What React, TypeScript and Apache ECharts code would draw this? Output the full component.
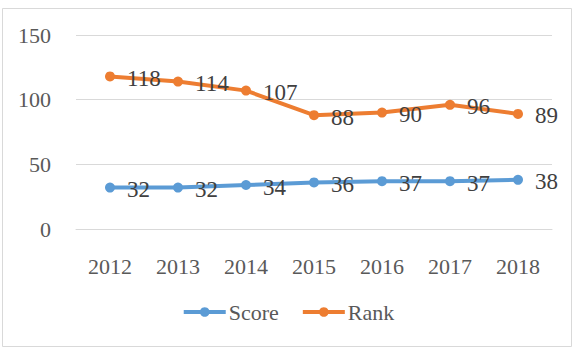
import React, { useEffect, useRef } from "react";
import * as echarts from "echarts";

const years = ["2012", "2013", "2014", "2015", "2016", "2017", "2018"];
const score = [32, 32, 34, 36, 37, 37, 38];
const rank = [118, 114, 107, 88, 90, 96, 89];
const yTicks = { min: 0, max: 150, interval: 50 };

const FONT = "Liberation Serif";
const TEXT = "#595959";

export default function App() {
  const ref = useRef<HTMLDivElement>(null);
  useEffect(() => {
    const chart = echarts.init(ref.current!, null, { renderer: "svg" });
    const label = {
      show: true,
      position: "right",
      distance: 12,
      offset: [0, 2],
      color: "#404040",
      fontFamily: FONT,
      fontSize: 23,
    };
    chart.setOption({
      animation: false,
      backgroundColor: "#ffffff",
      textStyle: { fontFamily: FONT },
      graphic: [
        {
          type: "rect",
          shape: { x: 2.5, y: 8.5, width: 569, height: 338 },
          style: { fill: "none", stroke: "#d9d9d9", lineWidth: 1 },
          silent: true,
        },
      ],
      grid: { left: 76, right: 24, top: 35, bottom: 129, containLabel: false },
      xAxis: {
        type: "category",
        data: years,
        boundaryGap: true,
        axisLine: { show: true, lineStyle: { color: "#d9d9d9" } },
        axisTick: { show: false },
        axisLabel: { color: TEXT, fontFamily: FONT, fontSize: 22, margin: 26 },
      },
      yAxis: {
        type: "value",
        min: yTicks.min,
        max: yTicks.max,
        interval: yTicks.interval,
        axisLine: { show: false },
        axisTick: { show: false },
        splitLine: { lineStyle: { color: "#d9d9d9" } },
        axisLabel: { color: TEXT, fontFamily: FONT, fontSize: 22, margin: 25 },
      },
      legend: {
        bottom: 30,
        left: "center",
        itemWidth: 42,
        itemHeight: 12,
        itemGap: 22,
        lineStyle: { width: 4 },
        textStyle: { color: TEXT, fontFamily: FONT, fontSize: 22, padding: [0, 0, 0, -2] },
        data: ["Score", "Rank"],
      },
      series: [
        {
          name: "Score",
          type: "line",
          data: score,
          symbol: "circle",
          symbolSize: 10,
          color: "#5B9BD5",
          lineStyle: { width: 4, color: "#5B9BD5" },
          itemStyle: { color: "#5B9BD5" },
          label,
        },
        {
          name: "Rank",
          type: "line",
          data: rank,
          symbol: "circle",
          symbolSize: 10,
          color: "#ED7D31",
          lineStyle: { width: 4, color: "#ED7D31" },
          itemStyle: { color: "#ED7D31" },
          label,
        },
      ],
    });
    return () => chart.dispose();
  }, []);
  return (
    <div
      ref={ref}
      style={{ position: "absolute", left: 0, top: 0, width: 576, height: 358 }}
    />
  );
}
